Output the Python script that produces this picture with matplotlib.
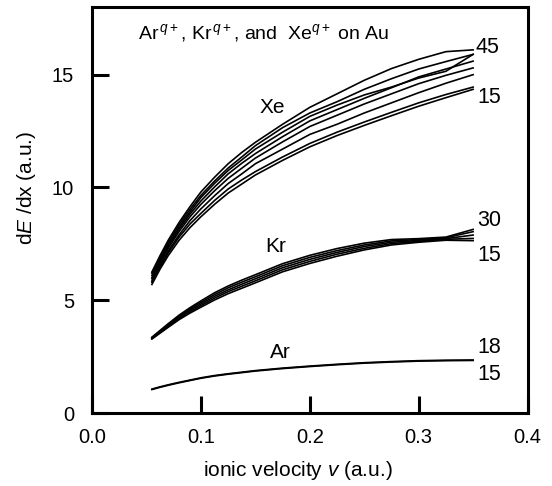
import matplotlib
matplotlib.use("Agg")
import matplotlib.pyplot as plt

plt.rcParams['font.family'] = ['Liberation Sans', 'DejaVu Sans']
plt.rcParams['mathtext.fontset'] = 'custom'
plt.rcParams['mathtext.rm'] = 'Liberation Sans'
plt.rcParams['mathtext.it'] = 'Liberation Sans:italic'

# ionic velocity grid (a.u.)
v = [0.055, 0.0625, 0.07, 0.08, 0.09, 0.1, 0.1125, 0.125, 0.1375, 0.15,
     0.175, 0.2, 0.225, 0.25, 0.275, 0.3, 0.325, 0.35]

# Xe stopping, top curve = q 45 down to q 15
xe_curves = [
    [6.25, 6.98, 7.66, 8.45, 9.15, 9.8, 10.45, 11.05, 11.55, 12.0, 12.8, 13.55, 14.15, 14.75, 15.27, 15.68, 16.02, 16.1],
    [6.2, 6.9, 7.57, 8.35, 9.03, 9.65, 10.28, 10.86, 11.35, 11.85, 12.65, 13.3, 13.8, 14.35, 14.82, 15.25, 15.58, 15.9],
    [6.1, 6.8, 7.47, 8.24, 8.92, 9.55, 10.18, 10.75, 11.22, 11.7, 12.45, 13.15, 13.65, 14.1, 14.45, 14.85, 15.15, 15.9],
    [6.0, 6.72, 7.38, 8.15, 8.82, 9.4, 10.02, 10.6, 11.07, 11.5, 12.25, 12.95, 13.45, 13.95, 14.42, 14.9, 15.25, 15.6],
    [5.95, 6.65, 7.3, 8.05, 8.7, 9.25, 9.85, 10.4, 10.85, 11.3, 12.02, 12.7, 13.2, 13.7, 14.15, 14.6, 14.97, 15.3],
    [5.85, 6.55, 7.18, 7.9, 8.53, 9.05, 9.63, 10.17, 10.6, 11.05, 11.7, 12.35, 12.8, 13.3, 13.75, 14.2, 14.62, 15.0],
    [5.8, 6.48, 7.1, 7.8, 8.38, 8.85, 9.42, 9.93, 10.33, 10.7, 11.35, 11.95, 12.45, 12.9, 13.33, 13.75, 14.12, 14.45],
    [5.7, 6.38, 6.98, 7.66, 8.22, 8.7, 9.25, 9.75, 10.15, 10.55, 11.2, 11.8, 12.3, 12.75, 13.18, 13.6, 13.98, 14.35],
]

# Kr, q 30 down to q 15
kr_curves = [
    [3.36, 3.66, 3.96, 4.34, 4.67, 4.97, 5.33, 5.63, 5.89, 6.13, 6.62, 6.99, 7.29, 7.53, 7.69, 7.73, 7.8, 8.14],
    [3.34, 3.63, 3.92, 4.29, 4.61, 4.9, 5.25, 5.55, 5.8, 6.04, 6.53, 6.9, 7.2, 7.45, 7.63, 7.69, 7.77, 8.04],
    [3.32, 3.6, 3.88, 4.24, 4.55, 4.83, 5.17, 5.46, 5.71, 5.95, 6.44, 6.81, 7.12, 7.38, 7.57, 7.65, 7.73, 7.89],
    [3.3, 3.57, 3.84, 4.19, 4.49, 4.76, 5.09, 5.38, 5.62, 5.86, 6.35, 6.72, 7.04, 7.3, 7.51, 7.61, 7.7, 7.74],
    [3.28, 3.54, 3.8, 4.14, 4.43, 4.69, 5.01, 5.29, 5.53, 5.77, 6.26, 6.63, 6.95, 7.23, 7.45, 7.57, 7.66, 7.64],
]

# Ar, q 18 and q 15 (almost on top of each other)
ar_curves = [
    [1.06, 1.16, 1.25, 1.36, 1.46, 1.56, 1.66, 1.74, 1.81, 1.88, 1.99, 2.08, 2.16, 2.23, 2.28, 2.32, 2.34, 2.35],
    [1.04, 1.14, 1.23, 1.34, 1.44, 1.54, 1.64, 1.72, 1.79, 1.86, 1.97, 2.06, 2.14, 2.21, 2.26, 2.3, 2.32, 2.33],
]

species = [("Xe", 0.1656, 13.56), ("Kr", 0.169, 7.36), ("Ar", 0.173, 2.7)]
end_labels = [("45", 0.352, 16.2), ("15", 0.354, 14.0), ("30", 0.354, 8.55),
              ("15", 0.354, 7.0), ("18", 0.354, 2.9), ("15", 0.354, 1.7)]

fig = plt.figure(figsize=(5.52, 4.86), dpi=100)
ax = fig.add_axes([0.1667, 0.1502, 0.789, 0.8354])

for group in (xe_curves, kr_curves, ar_curves):
    for c in group:
        ax.plot(v, c, color='black', lw=1.2)

for name, x, y in species:
    ax.text(x, y, name, fontsize=15, ha='center', va='center')
for lab, x, y in end_labels:
    ax.text(x, y, lab, fontsize=15.5, ha='left', va='center')

ax.text(0.0423, 16.84, r"Ar$^{\,q+}$, Kr$^{\,q+}$, and  Xe$^{q+}$ on Au", fontsize=14,
        ha='left', va='center')

ax.set_xlim(0, 0.4)
ax.set_ylim(0, 18)
ax.set_xticks([0.0, 0.1, 0.2, 0.3, 0.4])
ax.set_xticklabels(["0.0", "0.1", "0.2", "0.3", "0.4"])
ax.set_yticks([0, 5, 10, 15])
ax.tick_params(direction='in', length=12, width=2.2, labelsize=14.5)
ax.tick_params(axis='x', pad=10.5)
ax.tick_params(axis='y', pad=13)
for s in ax.spines.values():
    s.set_linewidth(2.2)

ax.set_xlabel(r"ionic velocity $v$ (a.u.)", fontsize=15)
ax.set_ylabel(r"d$E$ /dx (a.u.)", fontsize=15)
ax.xaxis.set_label_coords(0.473, -0.113)
ax.yaxis.set_label_coords(-0.124, 0.554)

fig.savefig("out.png", dpi=100)
